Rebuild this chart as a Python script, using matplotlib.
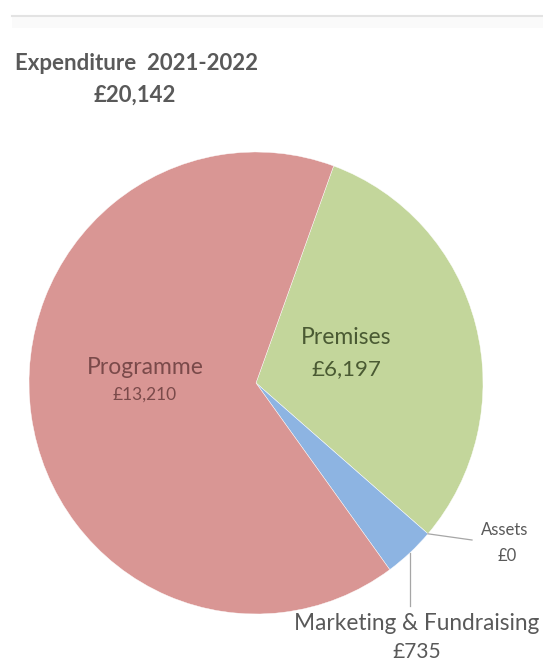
import numpy as np
import matplotlib.pyplot as plt
from matplotlib.lines import Line2D

W, H = 543, 662

categories = ['Premises', 'Assets', 'Marketing & Fundraising', 'Programme']
values = [6197, 0, 735, 13210]
value_labels = ['£6,197', '£0', '£735', '£13,210']
colors = ['#C3D69B', '#A9A9A9', '#8DB4E2', '#D99694']
total_label = '£20,142'
title = 'Expenditure  2021-2022'

FONT = ['Lato', 'DejaVu Sans']


def fx(x):
    return x / W


def fy(y):
    return 1 - y / H


fig = plt.figure(figsize=(W / 100, H / 100), dpi=100)
fig.patch.set_facecolor('white')

# pie axes, centre ~ (256, 383) px, radii ~ 227 x 231 px
cx, cy, rx, ry = 256, 383, 227, 231
ax = fig.add_axes([fx(cx - rx), fy(cy + ry), 2 * rx / W, 2 * ry / H])
wedges, _ = ax.pie(values, colors=colors, startangle=70, counterclock=False,
                   radius=1, wedgeprops=dict(edgecolor='white', linewidth=0.3))
ax.set_xlim(-1, 1)
ax.set_ylim(-1, 1)
ax.set_aspect('auto')
ax.axis('off')

# top separator line
fig.add_artist(Line2D([fx(12), 1], [fy(15.5), fy(15.5)], color='#e3e3e3', lw=1.5))
fig.add_artist(plt.Rectangle((fx(12), fy(28)), 1, (28 - 17) / H, color='#fafafa', lw=0))

# title
fig.text(fx(136), fy(64), title, ha='center', va='center', fontsize=16,
         fontweight='bold', color='#595959', family=FONT)
fig.text(fx(135), fy(95), total_label, ha='center', va='center', fontsize=16,
         fontweight='bold', color='#595959', family=FONT)

# labels inside the pie
fig.text(fx(145), fy(367), categories[3], ha='center', va='center', fontsize=16.5,
         color='#7a4a4a', family=FONT)
fig.text(fx(145), fy(395), value_labels[3], ha='center', va='center', fontsize=12.5,
         color='#7a4a4a', family=FONT)
fig.text(fx(346), fy(338), categories[0], ha='center', va='center', fontsize=16.5,
         color='#4a5a33', family=FONT)
fig.text(fx(346), fy(369), value_labels[0], ha='center', va='center', fontsize=16,
         color='#4a5a33', family=FONT)

# outside labels with leader lines from the wedge edges
def edge_point(theta_deg):
    t = np.deg2rad(theta_deg)
    x_disp, y_disp = ax.transData.transform((np.cos(t), np.sin(t)))
    return fig.transFigure.inverted().transform((x_disp, y_disp))


p_assets = edge_point(wedges[1].theta1)
fig.add_artist(Line2D([p_assets[0], fx(472)], [p_assets[1], fy(540)],
                      color='#a6a6a6', lw=0.9))
fig.text(fx(505), fy(530), categories[1], ha='center', va='center', fontsize=12,
         color='#595959', family=FONT)
fig.text(fx(507), fy(556), value_labels[1], ha='center', va='center', fontsize=12,
         color='#595959', family=FONT)

p_mkt = edge_point((wedges[2].theta1 + wedges[2].theta2) / 2)
fig.add_artist(Line2D([p_mkt[0], p_mkt[0]], [p_mkt[1], fy(606)],
                      color='#a6a6a6', lw=0.9))
fig.text(fx(417), fy(623), categories[2], ha='center', va='center', fontsize=16.3,
         color='#595959', family=FONT)
fig.text(fx(417), fy(652), value_labels[2], ha='center', va='center', fontsize=15,
         color='#595959', family=FONT)

fig.savefig('out.png', dpi=100, facecolor='white')
